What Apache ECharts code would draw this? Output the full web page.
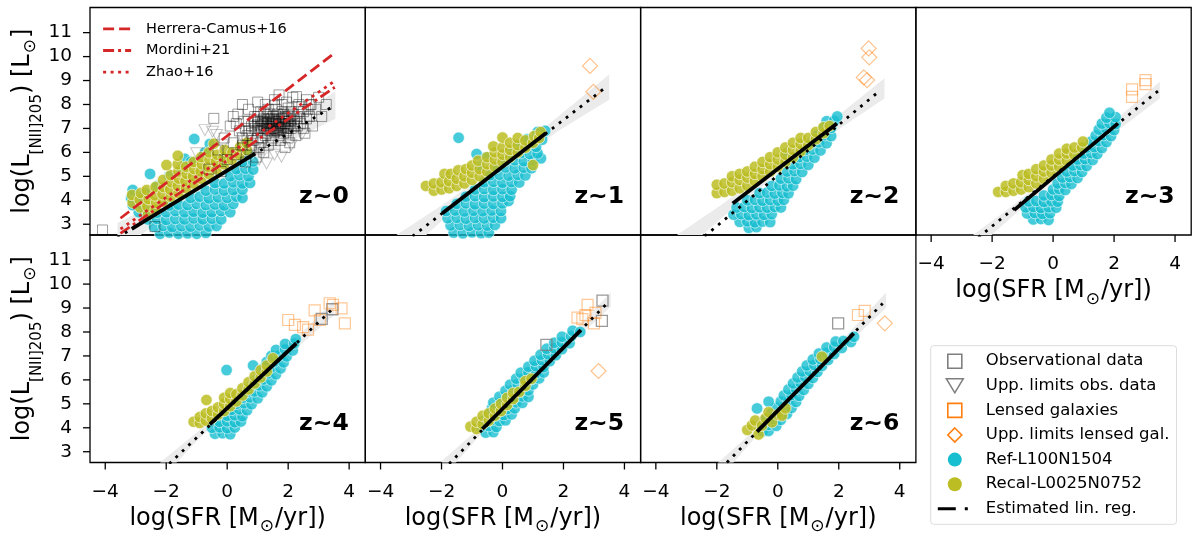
<!DOCTYPE html>
<html>
<head>
<meta charset="utf-8">
<script src="https://cdn.jsdelivr.net/npm/echarts@6/dist/echarts.min.js"></script>
<style>
  html, body { margin: 0; padding: 0; background: #fff; }
  #chart { width: 1200px; height: 542px; }
</style>
</head>
<body>
<div id="chart"></div>
<script>
var FONT = 'DejaVu Sans';
var RED = '#d62728';

// ---- axes / panels ----
var xRange = [-4.5, 4.53];
var yRange = [2.55, 12.05];
var xTicks = [-4, -2, 0, 2, 4];
var yTicks = [3, 4, 5, 6, 7, 8, 9, 10, 11];
var zLabels = ['z~0', 'z~1', 'z~2', 'z~3', 'z~4', 'z~5', 'z~6'];

// ---- Ref-L100N1504 (cyan), one list per panel ----
var refL100 = [
  [[-2.2,2.6],[-1.9,2.65],[-1.6,2.6],[-1.3,2.62],[-1.0,2.6],[-0.7,2.64],
   [-2.4,2.9],[-2.1,2.93],[-1.8,2.88],[-1.5,2.92],[-1.2,2.9],[-0.9,2.95],[-0.6,2.9],[-0.35,2.93],
   [-2.6,3.2],[-2.3,3.22],[-2.0,3.18],[-1.7,3.22],[-1.4,3.2],[-1.1,3.24],[-0.8,3.2],[-0.5,3.23],[-0.2,3.2],
   [-2.9,3.5],[-2.6,3.52],[-2.3,3.48],[-2.0,3.5],[-1.7,3.55],[-1.4,3.5],[-1.1,3.52],[-0.8,3.48],[-0.5,3.5],[-0.2,3.55],[0.1,3.5],
   [-3.1,3.8],[-2.8,3.82],[-1.9,3.78],[-1.6,3.82],[-1.3,3.8],[-1.0,3.85],[-0.7,3.8],[-0.4,3.82],[-0.1,3.78],[0.2,3.85],
   [-3.15,4.1],[-2.9,4.12],[-1.2,4.1],[-0.9,4.15],[-0.6,4.08],[-0.3,4.12],[0.0,4.1],[0.3,4.15],[0.5,4.1],
   [-3.1,4.43],[-0.7,4.4],[-0.4,4.45],[-0.1,4.4],[0.2,4.42],[0.5,4.45],
   [-0.4,4.72],[-0.1,4.7],[0.2,4.75],[0.5,4.7],[0.75,4.72],
   [-2.53,5.1],[0.1,5.0],[0.4,5.05],[0.7,5.0],
   [0.3,5.3],[0.6,5.32],[0.85,5.28],
   [0.5,5.6],[0.85,5.62],[-0.13,5.6],[-1.39,5.73],
   [-0.73,6.0],[0.7,5.9],[-0.57,6.35],[-1.08,6.56],
   [-2.3,4.6],[-1.9,5.0],[-1.5,5.3],[-1.2,5.6],[-2.7,4.3]],
  [[-1.6,2.65],[-1.3,2.62],[-1.0,2.66],[-0.7,2.63],[-0.45,2.65],
   [-1.7,2.95],[-1.4,2.97],[-1.1,2.93],[-0.8,2.96],[-0.5,2.94],[-0.25,2.97],
   [-1.8,3.25],[-1.5,3.27],[-1.2,3.23],[-0.9,3.26],[-0.6,3.24],[-0.3,3.27],[-0.05,3.25],
   [-1.85,3.55],[-1.55,3.57],[-1.25,3.53],[-0.95,3.56],[-0.65,3.54],[-0.35,3.57],[-0.05,3.55],
   [-1.5,3.85],[-1.2,3.87],[-0.9,3.83],[-0.6,3.86],[-0.3,3.84],[0.0,3.87],[0.2,3.97],
   [-1.2,4.15],[-0.9,4.17],[-0.6,4.13],[-0.3,4.16],[0.0,4.14],[0.25,4.17],
   [-0.9,4.45],[-0.6,4.47],[-0.3,4.43],[0.0,4.46],[0.3,4.44],
   [-0.6,4.75],[-0.3,4.77],[0.0,4.73],[0.3,4.76],[0.55,4.74],
   [-0.4,5.05],[-0.1,5.07],[0.2,5.03],[0.5,5.06],[0.75,5.04],
   [-0.2,5.35],[0.1,5.37],[0.4,5.33],[0.7,5.36],[0.95,5.34],
   [0.1,5.65],[0.4,5.67],[0.7,5.63],[1.0,5.66],[1.26,5.75],
   [0.3,5.95],[0.6,5.97],[0.9,5.93],[1.15,5.96],
   [0.5,6.25],[0.8,6.27],[1.1,6.23],
   [0.8,6.55],[1.1,6.57],[1.3,6.53],
   [1.15,6.85],[1.4,6.9],
   [-1.44,6.61],[-0.85,5.93],[-0.54,5.79],[-0.76,5.4]],
  [[-0.95,2.85],[-0.7,2.88],
   [-1.25,3.1],[-1.0,3.12],[-0.75,3.08],[-0.5,3.11],[-0.25,3.09],
   [-1.45,3.4],[-1.2,3.42],[-0.95,3.38],[-0.7,3.41],[-0.45,3.39],[-0.2,3.42],
   [-1.35,3.7],[-1.1,3.72],[-0.85,3.68],[-0.6,3.71],[-0.35,3.69],[-0.1,3.72],[0.1,3.7],
   [-1.0,4.0],[-0.75,4.02],[-0.5,3.98],[-0.25,4.01],[0.0,3.99],[0.2,4.02],
   [-0.6,4.3],[-0.35,4.32],[-0.1,4.28],[0.15,4.31],[0.35,4.29],
   [-0.2,4.6],[0.05,4.62],[0.3,4.58],[0.5,4.61],
   [0.1,4.9],[0.35,4.92],[0.6,4.88],
   [0.3,5.2],[0.55,5.22],[0.8,5.18],
   [0.5,5.5],[0.75,5.52],[1.0,5.48],
   [0.26,5.95],[0.7,5.8],[0.95,5.82],[1.2,5.78],
   [0.9,6.1],[1.15,6.12],[1.4,6.08],
   [1.1,6.4],[1.35,6.42],[1.6,6.38],
   [1.3,6.7],[1.55,6.72],[1.75,6.68],
   [1.5,7.0],[1.75,7.02],
   [1.6,7.3],[1.85,7.32],
   [1.95,7.5]],
  [[-0.65,3.2],[-0.4,3.22],[-0.15,3.18],
   [-0.85,3.45],[-0.6,3.47],[-0.35,3.43],[-0.1,3.46],
   [-0.9,3.7],[-0.65,3.72],[-0.4,3.68],[-0.15,3.71],[0.1,3.69],
   [-0.8,3.95],[-0.55,3.97],[-0.3,3.93],[-0.05,3.96],[0.15,3.94],
   [-0.3,4.2],[-0.05,4.22],[0.2,4.18],
   [0.0,4.45],[0.2,4.47],[0.4,4.43],
   [0.15,4.7],[0.4,4.72],[0.6,4.68],
   [0.3,4.95],[0.55,4.97],[0.8,4.93],
   [0.45,5.2],[0.7,5.22],[0.95,5.18],
   [0.65,5.45],[0.9,5.47],[1.1,5.43],
   [0.8,5.7],[1.05,5.72],[1.3,5.68],
   [1.0,5.95],[1.25,5.97],[1.45,5.93],
   [1.1,6.2],[1.35,6.22],[1.6,6.18],
   [1.25,6.45],[1.5,6.47],[1.75,6.43],
   [1.4,6.7],[1.65,6.72],[1.9,6.68],
   [1.5,6.95],[1.75,6.97],[2.0,6.93],
   [1.6,7.2],[1.85,7.22],[2.05,7.18],
   [1.75,7.45],[2.05,7.47],
   [1.85,7.65]],
  [[-0.4,3.75],[-0.15,3.77],[0.1,3.73],
   [-0.5,4.0],[-0.25,4.02],[0.0,3.98],[0.25,4.01],
   [-0.25,4.25],[0.0,4.27],[0.25,4.23],[0.45,4.26],
   [0.0,4.5],[0.25,4.52],[0.5,4.48],
   [0.15,4.75],[0.4,4.77],[0.65,4.73],
   [0.3,5.0],[0.55,5.02],[0.8,4.98],
   [0.5,5.25],[0.75,5.27],[1.0,5.23],
   [0.65,5.5],[0.9,5.52],[1.15,5.48],
   [0.8,5.75],[1.05,5.77],[1.3,5.73],
   [0.95,6.0],[1.2,6.02],[1.45,5.98],
   [1.1,6.25],[1.35,6.27],[1.6,6.23],
   [0.85,6.6],[1.2,6.5],[1.45,6.52],[1.75,6.48],
   [1.3,6.75],[1.55,6.77],[1.85,6.73],
   [1.45,7.0],[1.7,7.02],[1.95,6.98],
   [1.6,7.25],[1.9,7.27],[2.15,7.23],
   [1.9,7.5],[2.2,7.52],
   [2.25,7.7],
   [-0.02,6.41]],
  [[-0.55,3.8],[-0.3,3.82],
   [-0.7,4.05],[-0.45,4.07],[-0.2,4.03],
   [-0.6,4.3],[-0.35,4.32],[-0.1,4.28],[0.1,4.31],
   [-0.45,4.55],[-0.2,4.57],[0.05,4.53],[0.3,4.56],
   [-0.35,4.8],[-0.1,4.82],[0.15,4.78],[0.4,4.81],
   [-0.3,5.05],[-0.05,5.07],[0.2,5.03],[0.45,5.06],[0.65,5.04],
   [-0.1,5.3],[0.15,5.32],[0.4,5.28],[0.65,5.31],[0.85,5.29],
   [0.1,5.55],[0.35,5.57],[0.6,5.53],[0.85,5.56],
   [0.25,5.8],[0.5,5.82],[0.75,5.78],[1.0,5.81],
   [0.45,6.05],[0.7,6.07],[0.95,6.03],[1.2,6.06],
   [0.6,6.3],[0.85,6.32],[1.1,6.28],[1.35,6.31],
   [0.85,6.55],[1.1,6.57],[1.35,6.53],
   [1.05,6.8],[1.3,6.82],[1.55,6.78],
   [1.25,7.05],[1.5,7.07],[1.75,7.03],
   [1.45,7.3],[1.7,7.32],[1.95,7.28],
   [1.7,7.55],[1.95,7.57],[2.2,7.53],
   [1.95,7.8],[2.25,7.82],
   [2.3,8.05],[2.55,8.0]],
  [[-0.5,3.85],[-0.3,3.87],
   [-0.55,4.1],[-0.3,4.12],[-0.05,4.08],
   [-0.4,4.35],[-0.15,4.37],[0.1,4.33],
   [-0.2,4.6],[0.05,4.62],[0.3,4.58],
   [-0.68,4.81],[-0.05,4.85],[0.2,4.87],[0.45,4.83],
   [-0.3,5.09],[0.1,5.1],[0.35,5.12],[0.6,5.08],
   [0.2,5.35],[0.45,5.37],[0.7,5.33],
   [0.35,5.6],[0.6,5.62],[0.85,5.58],
   [0.5,5.85],[0.75,5.87],[1.0,5.83],
   [0.65,6.1],[0.9,6.12],[1.15,6.08],
   [0.8,6.35],[1.05,6.37],[1.3,6.33],
   [0.95,6.6],[1.2,6.62],[1.45,6.58],
   [1.15,6.85],[1.4,6.87],[1.65,6.83],
   [1.35,7.1],[1.6,7.12],[1.85,7.08],
   [1.6,7.35],[1.85,7.37],[2.1,7.33],
   [1.9,7.6],[2.15,7.62],[2.4,7.58],
   [2.5,7.8]]
];

// ---- Recal-L0025N0752 (olive) ----
var recalL25 = [
  [[-3.1,3.9],[-3.12,4.22],
   [-2.85,3.7],[-2.87,4.02],[-2.83,4.3],
   [-2.6,3.4],[-2.62,3.75],[-2.58,4.05],[-2.64,4.43],
   [-2.35,3.6],[-2.33,3.9],[-2.37,4.2],[-2.35,4.55],
   [-2.1,3.95],[-2.12,4.25],[-2.08,4.55],[-2.1,4.85],
   [-1.85,4.15],[-1.87,4.45],[-1.83,4.75],[-1.85,5.05],[-1.99,5.47],
   [-1.6,4.3],[-1.62,4.6],[-1.58,4.9],[-1.6,5.2],[-1.62,5.5],[-1.62,5.86],
   [-1.35,4.5],[-1.37,4.8],[-1.33,5.1],[-1.35,5.4],
   [-1.1,4.7],[-1.12,5.0],[-1.08,5.3],[-1.1,5.6],
   [-0.85,4.9],[-0.87,5.2],[-0.83,5.5],[-0.85,5.8],
   [-0.6,5.1],[-0.62,5.4],[-0.58,5.7],[-0.6,6.0],
   [-0.35,5.3],[-0.37,5.6],[-0.33,5.9],[-0.44,6.36],
   [-0.1,5.5],[-0.12,5.8],[-0.08,6.1],
   [0.15,5.7],[0.17,6.0],
   [0.4,5.9],[0.42,6.22],
   [0.65,6.1],[0.64,6.4]],
  [[-2.51,4.6],
   [-2.25,4.4],[-2.25,4.7],
   [-2.0,4.45],[-2.0,4.75],[-1.9,5.1],
   [-1.75,4.5],[-1.75,4.8],[-1.7,5.1],
   [-1.5,4.6],[-1.5,4.9],[-1.45,5.25],
   [-1.25,4.7],[-1.25,5.0],[-1.2,5.3],
   [-1.0,4.85],[-1.0,5.15],[-1.0,5.45],
   [-0.75,5.0],[-0.75,5.3],[-0.8,5.65],
   [-0.5,5.2],[-0.5,5.5],[-0.5,5.8],
   [-0.25,5.4],[-0.25,5.7],[-0.25,6.0],[-0.3,6.25],
   [0.0,5.6],[0.0,5.9],[0.0,6.2],[0.0,6.62],
   [0.25,5.8],[0.25,6.1],[0.25,6.4],
   [0.5,6.0],[0.5,6.3],[0.5,6.6],
   [0.75,6.2],[0.75,6.5],
   [1.0,5.47],[1.0,6.4],[1.04,6.68],
   [1.2,6.6],[1.25,6.85]],
  [[-2.0,4.3],[-2.0,4.65],
   [-1.75,4.35],[-1.75,4.7],
   [-1.5,4.4],[-1.5,4.75],[-1.5,5.0],
   [-1.25,4.5],[-1.25,4.85],[-1.25,5.1],
   [-1.0,4.6],[-1.0,4.95],[-1.0,5.2],
   [-0.75,4.8],[-0.75,5.1],[-0.75,5.4],
   [-0.5,5.0],[-0.5,5.3],[-0.5,5.6],
   [-0.25,5.2],[-0.25,5.5],[-0.25,5.8],
   [0.0,5.4],[0.0,5.7],[0.0,6.0],
   [0.25,5.6],[0.25,5.9],[0.25,6.2],
   [0.5,5.8],[0.5,6.1],[0.5,6.4],
   [0.75,6.05],[0.75,6.35],[0.75,6.6],
   [1.0,6.3],[1.0,6.6],
   [1.25,6.55],[1.25,6.85],
   [1.5,6.8],[1.5,7.05],
   [1.7,7.1]],
  [[-1.8,4.35],
   [-1.55,4.35],[-1.55,4.6],
   [-1.3,4.4],[-1.3,4.7],
   [-1.05,4.45],[-1.05,4.75],[-1.0,5.05],
   [-0.8,4.55],[-0.8,4.85],[-0.8,5.1],
   [-0.55,4.7],[-0.55,5.0],[-0.55,5.3],
   [-0.3,4.9],[-0.3,5.2],[-0.3,5.45],
   [-0.05,5.15],[-0.05,5.45],[-0.05,5.7],
   [0.2,5.4],[0.2,5.7],[0.2,5.95],
   [0.45,5.65],[0.45,5.95],[0.45,6.15],
   [0.7,5.9],[0.7,6.2],
   [0.95,6.2],[0.98,6.45]],
  [[-1.1,4.25],
   [-0.9,4.2],[-0.9,4.45],
   [-0.7,4.3],[-0.7,4.6],
   [-0.5,4.4],[-0.5,4.7],[-0.68,5.16],
   [-0.3,4.55],[-0.3,4.85],
   [-0.1,4.7],[-0.1,5.0],[-0.1,5.25],
   [0.1,4.9],[0.1,5.2],[0.1,5.45],
   [0.3,5.1],[0.3,5.4],
   [0.5,5.35],[0.5,5.65],
   [0.7,5.6],[0.7,5.9],
   [0.9,5.85],[0.9,6.15],
   [1.1,6.1],[1.1,6.4],
   [1.3,6.35],[1.3,6.6],
   [1.5,6.9]],
  [[-1.05,4.05],
   [-0.85,3.95],[-0.85,4.25],
   [-0.65,4.15],[-0.65,4.5],
   [-0.45,4.3],[-0.45,4.6],
   [-0.25,4.5],[-0.25,4.8],
   [-0.05,4.7],[-0.05,5.0],
   [0.15,4.95],[0.15,5.25],
   [0.35,5.2],[0.35,5.45],
   [0.55,5.5],
   [0.75,5.75],[0.75,5.95],
   [0.95,6.05]],
  [[-1.0,3.91],[-0.85,4.1],[-0.74,4.3],[-0.63,3.72],[-0.52,4.09],[-0.4,4.4],[-0.3,4.65],[-0.19,4.23],[0.0,4.55],[0.14,4.51],[0.25,4.81],[1.45,6.97]]
];

// ---- observations ----
var obsData = [
  [[-4.09,2.76],[-2.37,2.9],[-0.44,7.42],[-0.6,5.3],[-0.3,6.1],[-0.1,6.6],[0.0,5.7],[0.1,7.1],[0.2,6.4],[0.3,5.9],[0.35,7.6],[0.4,6.9],[0.5,6.3],[0.55,7.3],[0.6,5.6],[0.65,6.7],[0.7,7.8],[0.75,6.1],[0.8,7.1],[0.85,6.5],[0.9,7.5],[0.95,5.8],[1.0,6.9],[1.0,7.3],[1.05,6.2],[1.1,7.7],[1.15,6.6],[1.2,7.0],[1.2,7.4],[1.25,8.0],[1.3,6.8],[1.3,7.2],[1.35,6.3],[1.4,7.6],[1.45,7.0],[1.5,7.3],[1.5,6.6],[1.55,8.2],[1.6,7.1],[1.6,7.8],[1.65,6.9],[1.7,7.4],[1.75,6.5],[1.8,7.2],[1.8,7.7],[1.85,6.8],[1.9,7.5],[1.95,8.1],[2.0,7.0],[2.0,7.3],[2.05,6.4],[2.1,7.7],[2.15,8.3],[2.2,7.1],[2.25,6.7],[2.3,7.5],[2.35,8.0],[2.4,7.2],[2.5,7.7],[2.55,6.8],[2.6,8.2],[2.7,7.5],[2.75,8.0],[2.8,7.1],[2.9,7.8],[3.0,8.3],[3.1,7.5],[3.25,8.0],[2.27,8.33],[2.71,7.98],[1.0,8.1],[0.5,8.0],[1.7,8.4],[0.2,7.5],[-0.2,5.2],[1.9,6.2],[1.2,6.0],[0.7,6.9],[1.4,7.3],[1.1,7.1],[1.7,7.0],[1.3,7.5],[1.9,7.3],[1.5,7.0],[1.6,7.5],[1.0,6.6],[2.2,7.4],[1.85,7.05],
   [0.6,7.0],[0.7,7.3],[0.8,6.8],[0.9,7.0],[1.0,7.15],[1.1,6.9],[1.15,7.3],[1.25,6.7],[1.3,7.0],[1.35,7.4],[1.4,6.9],[1.45,7.2],[1.5,7.5],[1.55,6.85],[1.6,7.25],[1.65,7.6],[1.7,7.15],[1.75,6.95],[1.8,7.4],[1.85,7.6],[1.9,7.1],[1.95,6.9],[2.0,7.5],[2.05,7.2],[2.1,7.0],[2.15,7.6],[2.2,7.3],[2.3,7.1],[2.35,7.7],[2.4,7.4],[2.45,7.9],[2.5,7.0],[2.6,7.4],[2.65,7.8],[1.2,7.65],[1.0,7.5],[0.9,7.25],[1.35,7.8],[1.55,7.95],[1.8,8.0],[2.0,7.85],[1.45,6.5],[1.7,6.7],[2.0,6.6],[0.5,6.6],[0.3,7.2],[0.8,6.3],[1.1,6.4],
   [1.05,7.0],[1.25,7.25],[1.4,7.1],[1.55,7.35],[1.7,7.3],[1.9,7.2],[2.1,7.35],[1.3,7.1],[1.5,7.15],[1.65,7.05],[1.85,7.45],[2.05,7.55],[1.15,7.2],[1.35,6.95],[1.6,6.95],
   [1.2,7.15],[1.45,7.4],[1.75,7.2],[1.95,7.4],[1.35,7.25],[1.6,7.3],[1.8,7.05],[2.0,7.15],[1.1,7.35],[1.5,7.2]],
  [], [], [],
  [[3.1,8.55],[3.45,8.95]],
  [[1.44,7.46],[3.28,9.31],[3.26,8.46]],
  [[1.98,8.36]]
];
var obsUpper = [
  [[-0.73,6.93],[-0.48,6.86],[-0.35,6.73],[-1.0,5.96],[1.29,5.54],[1.78,5.82],[1.55,5.9],[0.9,6.1],[2.1,6.3],[-0.15,6.3],[0.5,6.6],[2.45,6.75],[1.05,5.7]],
  [], [], [], [], [], []
];
var lensed = [
  [], [], [],
  [[2.59,8.32],[2.59,8.63],[3.03,9.02],[3.03,8.85]],
  [[2.0,8.5],[2.22,8.3],[2.49,8.2],[2.65,8.1],[2.87,8.9],[3.04,8.5],[3.36,9.2],[3.47,9.13],[3.75,8.99],[3.86,8.36]],
  [[2.79,9.13],[2.62,8.54],[3.0,8.36],[3.05,8.8],[2.72,8.7],[2.46,8.6]],
  [[2.63,8.71],[2.85,8.88]]
];
var lensedUpper = [
  [],
  [[2.87,9.61],[2.98,8.53]],
  [[2.98,10.34],[3.0,9.97],[2.82,9.13],[2.93,9.02]],
  [], [],
  [[3.15,6.37]],
  [[3.51,8.36]]
];

// ---- estimated linear regression: fitted range, extrapolation, band [x, low, high] ----
var regFit = [
  [[-3.13,2.81],[0.91,5.95]],
  [[-1.97,3.46],[1.42,6.8]],
  [[-1.48,3.87],[1.94,7.21]],
  [[-1.28,3.59],[2.13,7.21]],
  [[-0.57,4.14],[2.27,7.53]],
  [[-0.66,3.95],[2.57,8.08]],
  [[-0.68,3.84],[2.49,7.94]]
];
var regExt = [
  [[-3.6,2.44],[3.48,7.93]],
  [[-2.95,2.5],[3.39,8.72]],
  [[-2.4,2.5],[3.37,8.6]],
  [[-2.45,2.45],[3.44,8.56]],
  [[-1.9,2.5],[3.42,8.92]],
  [[-1.75,2.5],[3.48,9.26]],
  [[-1.67,2.55],[3.44,9.19]]
];
var regBand = [
  [[-3.6,1.85,3.05],[-1.8,3.5,4.2],[0,5.0,5.5],[1.8,6.3,7.0],[3.55,7.4,8.55]],
  [[-3.6,1.3,2.45],[-1.8,3.35,3.95],[0,5.17,5.65],[1.8,6.87,7.47],[3.5,8.2,9.25]],
  [[-3.6,1.3,2.3],[-1.8,3.3,3.85],[0,5.1,5.55],[1.8,6.8,7.35],[3.5,8.25,9.1]],
  [[-3.0,1.4,2.2],[-1.5,3.15,3.6],[0.4,5.2,5.55],[2.0,6.8,7.3],[3.5,8.25,8.95]],
  [[-2.2,1.8,2.55],[-1.0,3.45,3.8],[0.8,5.65,5.9],[2.3,7.35,7.8],[3.5,8.7,9.3]],
  [[-2.0,1.85,2.6],[-0.8,3.6,3.95],[1.0,5.95,6.25],[2.5,7.8,8.25],[3.55,9.05,9.65]],
  [[-2.0,1.75,2.5],[-0.8,3.5,3.85],[1.0,5.88,6.18],[2.5,7.75,8.2],[3.55,9.0,9.65]]
];

// ---- literature relations (z~0 panel) ----
var herreraCamus = [[-3.5,3.25],[3.53,10.16]];
var mordini = [[-3.5,2.62],[3.53,8.72]];
var zhao = [[-3.5,2.8],[3.5,8.96]];

// ---- layout ----
var colLeft = [90, 365.3, 640.6, 915.9];
var rowTop = [7.5, 235];
var PW = 275.3, PH = 227.5;
var TICK_LEN = 7;

var chart = echarts.init(document.getElementById('chart'));

function minusFmt(v) { return v < 0 ? '\u2212' + Math.abs(v) : String(v); }

var xName = '{m|log(SFR [M}{o|\u2299}{m|/yr])}';
var yName = '{m|log(L}{s|[NII]205}{m|) [L}{o|\u2299}{m|]}';
var nameStyle = {
  fontFamily: FONT, fontSize: 24, color: '#000',
  rich: {
    m: { fontFamily: FONT, fontSize: 24, lineHeight: 26, verticalAlign: 'top', color: '#000' },
    s: { fontFamily: FONT, fontSize: 15, lineHeight: 15, padding: [19, 0, 0, 0], verticalAlign: 'top', color: '#000' },
    o: { fontFamily: FONT, fontSize: 17, lineHeight: 17, padding: [12, 1, 0, 1], verticalAlign: 'top', color: '#000' }
  }
};

var grids = [], xAxes = [], yAxes = [], series = [], texts = [];
var noEmph = { disabled: true };

// outward tick marks, placed through the axis scales
function tickSeries(i, vals, horizontal) {
  return {
    type: 'custom', xAxisIndex: i, yAxisIndex: i, z: 10, silent: true, clip: false,
    data: vals.map(function (v) { return horizontal ? [v, yRange[0]] : [xRange[0], v]; }),
    renderItem: function (params, api) {
      var p = api.coord([api.value(0), api.value(1)]);
      var shape = horizontal
        ? { x1: p[0], y1: p[1], x2: p[0], y2: p[1] + TICK_LEN }
        : { x1: p[0], y1: p[1], x2: p[0] - TICK_LEN, y2: p[1] };
      return { type: 'line', shape: shape, style: { stroke: '#000', lineWidth: 1.3 } };
    }
  };
}

zLabels.forEach(function (lab, i) {
  var row = i < 4 ? 0 : 1;
  var col = i < 4 ? i : i - 4;
  var left = colLeft[col], top = rowTop[row];
  var showX = i >= 3, showY = col === 0;

  grids.push({ left: left, top: top, width: PW, height: PH, show: true,
    borderColor: '#000', borderWidth: 1.3, backgroundColor: 'transparent' });

  xAxes.push({
    gridIndex: i, type: 'value', min: xRange[0], max: xRange[1], position: 'bottom',
    axisLine: { show: false, onZero: false }, splitLine: { show: false }, axisTick: { show: false },
    axisLabel: { show: showX, customValues: xTicks, formatter: minusFmt,
      fontFamily: FONT, fontSize: 18.5, color: '#000', margin: 20 },
    name: showX ? xName : '', nameLocation: 'middle', nameGap: 44, nameTextStyle: nameStyle
  });
  yAxes.push({
    gridIndex: i, type: 'value', min: yRange[0], max: yRange[1], position: 'left',
    axisLine: { show: false, onZero: false }, splitLine: { show: false }, axisTick: { show: false },
    axisLabel: { show: showY, customValues: yTicks, formatter: minusFmt,
      fontFamily: FONT, fontSize: 18.5, color: '#000', margin: 18 },
    name: showY ? yName : '', nameLocation: 'middle', nameRotate: 90, nameGap: 51, nameTextStyle: nameStyle
  });

  var band = regBand[i];
  series.push({
    type: 'custom', xAxisIndex: i, yAxisIndex: i, z: 1, silent: true, clip: true,
    data: band,
    renderItem: function (params, api) {
      if (params.dataIndex !== 0) return;
      var up = band.map(function (p) { return api.coord([p[0], p[2]]); });
      var lo = band.slice().reverse().map(function (p) { return api.coord([p[0], p[1]]); });
      return { type: 'polygon', shape: { points: up.concat(lo) }, style: { fill: '#ebebeb' } };
    }
  });

  series.push({ name: 'Ref-L100N1504', type: 'scatter', xAxisIndex: i, yAxisIndex: i, z: 2,
    data: refL100[i], symbol: 'circle', symbolSize: 11.5, emphasis: noEmph,
    itemStyle: { color: '#17becf', opacity: 0.8, borderColor: '#fff', borderWidth: 0.7 } });
  series.push({ name: 'Recal-L0025N0752', type: 'scatter', xAxisIndex: i, yAxisIndex: i, z: 3,
    data: recalL25[i], symbol: 'circle', symbolSize: 11.5, emphasis: noEmph,
    itemStyle: { color: '#bcbd22', opacity: 0.85, borderColor: '#fff', borderWidth: 0.7 } });

  series.push({ name: 'Observational data', type: 'scatter', xAxisIndex: i, yAxisIndex: i, z: 4,
    data: obsData[i], symbol: 'rect', symbolSize: i === 0 ? 10 : 11, emphasis: noEmph,
    itemStyle: i === 0
      ? { color: 'rgba(0,0,0,0)', borderColor: 'rgba(0,0,0,0.6)', borderWidth: 0.8 }
      : { color: 'rgba(0,0,0,0)', borderColor: '#7f7f7f', borderWidth: 1.3 } });
  series.push({ name: 'Upp. limits obs. data', type: 'scatter', xAxisIndex: i, yAxisIndex: i, z: 4,
    data: obsUpper[i], symbol: 'path://M0,0L10,0L5,9Z', symbolSize: [12, 11], emphasis: noEmph,
    itemStyle: { color: 'rgba(0,0,0,0)', borderColor: 'rgba(110,110,110,0.5)', borderWidth: 1 } });
  series.push({ name: 'Lensed galaxies', type: 'scatter', xAxisIndex: i, yAxisIndex: i, z: 4,
    data: lensed[i], symbol: 'rect', symbolSize: 11, emphasis: noEmph,
    itemStyle: { color: 'rgba(0,0,0,0)', borderColor: 'rgba(255,127,14,0.55)', borderWidth: 1.2 } });
  series.push({ name: 'Upp. limits lensed gal.', type: 'scatter', xAxisIndex: i, yAxisIndex: i, z: 4,
    data: lensedUpper[i], symbol: 'diamond', symbolSize: 15, emphasis: noEmph,
    itemStyle: { color: 'rgba(0,0,0,0)', borderColor: 'rgba(255,127,14,0.6)', borderWidth: 1.2 } });

  if (i === 0) {
    [['Herrera-Camus+16', herreraCamus, [11, 5]],
     ['Mordini+21', mordini, [11, 4, 3, 4]],
     ['Zhao+16', zhao, [3, 4.5]]].forEach(function (r) {
      series.push({ name: r[0], type: 'line', xAxisIndex: 0, yAxisIndex: 0, z: 6,
        data: r[1], symbol: 'none', silent: true, emphasis: noEmph,
        lineStyle: { color: RED, width: 2.8, type: r[2] } });
    });
  }

  series.push({ name: 'lin. reg. extension', type: 'line', xAxisIndex: i, yAxisIndex: i, z: 7,
    data: regExt[i], symbol: 'none', silent: true, emphasis: noEmph,
    lineStyle: { color: '#000', width: 2.8, type: [2.8, 6] } });
  series.push({ name: 'Estimated lin. reg.', type: 'line', xAxisIndex: i, yAxisIndex: i, z: 8,
    data: regFit[i], symbol: 'none', silent: true, emphasis: noEmph,
    lineStyle: { color: '#000', width: 3.8 } });

  if (showX) series.push(tickSeries(i, xTicks, true));
  if (showY) series.push(tickSeries(i, yTicks, false));

  texts.push({ type: 'text', x: left + PW - 16.5, y: top + PH - 38.3, silent: true,
    style: { text: lab, fill: '#000', font: 'bold 23.5px "DejaVu Sans"',
      align: 'right', verticalAlign: 'middle', textAlign: 'right', textVerticalAlign: 'middle' } });
});

var legendText = { fontFamily: FONT, color: '#000' };

var option = {
  animation: false,
  grid: grids,
  xAxis: xAxes,
  yAxis: yAxes,
  series: series,
  graphic: texts,
  legend: [
    {
      orient: 'vertical', left: 101.7, top: 21.3, padding: 0,
      itemWidth: 28, itemHeight: 14, itemGap: 6.7, selectedMode: false,
      textStyle: Object.assign({ fontSize: 14.5, padding: [0, 0, 0, 10] }, legendText),
      data: [
        { name: 'Herrera-Camus+16', itemStyle: { opacity: 0 }, lineStyle: { color: RED, width: 2.8, type: [11, 5] } },
        { name: 'Mordini+21', itemStyle: { opacity: 0 }, lineStyle: { color: RED, width: 2.8, type: [11, 4, 3, 4] } },
        { name: 'Zhao+16', itemStyle: { opacity: 0 }, lineStyle: { color: RED, width: 2.8, type: [3, 4.5] } }
      ]
    },
    {
      orient: 'vertical', left: 930.7, top: 345.7, padding: [7, 7, 7, 5.6],
      itemWidth: 34, itemHeight: 14, itemGap: 7.6, selectedMode: false,
      borderColor: '#dcdcdc', borderWidth: 1, borderRadius: 3, backgroundColor: '#fff',
      textStyle: Object.assign({ fontSize: 16.5, padding: [0, 0, 0, 9] }, legendText),
      data: [
        { name: 'Observational data', icon: 'path://M0,0H10V10H0Z',
          itemStyle: { color: 'rgba(0,0,0,0)', borderColor: '#7f7f7f', borderWidth: 1.6, opacity: 1 } },
        { name: 'Upp. limits obs. data', icon: 'path://M0,0L12,0L6,10Z',
          itemStyle: { color: 'rgba(0,0,0,0)', borderColor: '#7f7f7f', borderWidth: 1.6, opacity: 1 } },
        { name: 'Lensed galaxies', icon: 'path://M0,0H10V10H0Z',
          itemStyle: { color: 'rgba(0,0,0,0)', borderColor: '#ff7f0e', borderWidth: 1.6, opacity: 1 } },
        { name: 'Upp. limits lensed gal.', icon: 'path://M6,0L12,6L6,12L0,6Z',
          itemStyle: { color: 'rgba(0,0,0,0)', borderColor: '#ff7f0e', borderWidth: 1.6, opacity: 1 } },
        { name: 'Ref-L100N1504', icon: 'circle',
          itemStyle: { color: '#17becf', borderWidth: 0, opacity: 1 } },
        { name: 'Recal-L0025N0752', icon: 'circle',
          itemStyle: { color: '#bcbd22', borderWidth: 0, opacity: 1 } },
        { name: 'Estimated lin. reg.', itemStyle: { opacity: 0 },
          lineStyle: { color: '#000', width: 3, type: [18, 9, 3, 60] } }
      ]
    }
  ]
};

chart.setOption(option);
</script>
</body>
</html>
